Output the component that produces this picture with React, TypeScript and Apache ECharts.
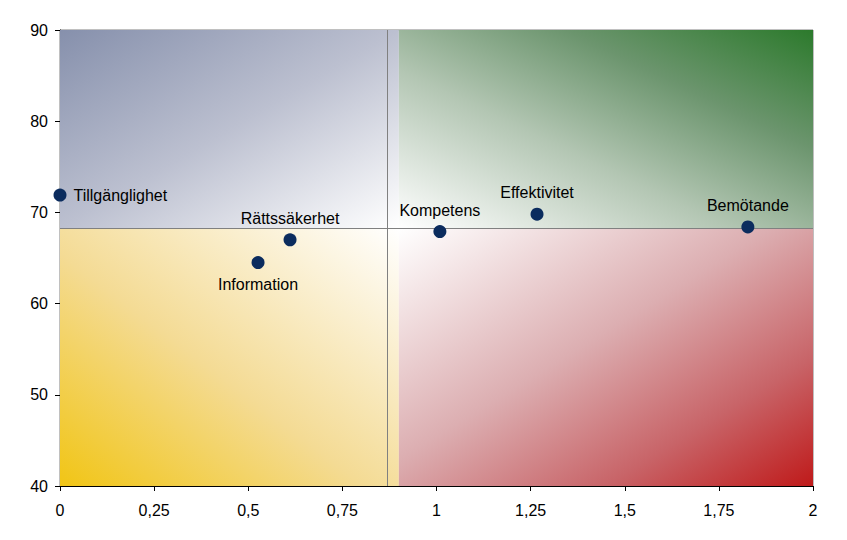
import React, { useEffect, useRef } from "react";
import * as echarts from "echarts";

const names = ["Tillgänglighet", "Information", "Rättssäkerhet", "Kompetens", "Effektivitet", "Bemötande"];
const xValues = [0, 0.526, 0.611, 1.009, 1.267, 1.827];
const yValues = [71.9, 64.5, 67.0, 67.9, 69.8, 68.4];
const labelPos = ["right", "bottom", "top", "top", "top", "top"];
const meanX = 0.874;
const meanY = 68.25;
const fillSplitX = 0.9;

const fmt = (v: number) => String(v).replace(".", ",");

export default function App() {
  const ref = useRef<HTMLDivElement>(null);
  useEffect(() => {
    if (!ref.current) return;
    const chart = echarts.init(ref.current, null, { renderer: "svg" });
    const LG = echarts.graphic.LinearGradient;
    const textStyle = { fontFamily: "Liberation Sans, Arial, sans-serif", fontSize: 16, color: "#000" };
    chart.setOption({
      animation: false,
      grid: { left: 60, top: 30, right: 34, bottom: 54, show: true, borderColor: "#808080", borderWidth: 1, backgroundColor: "transparent" },
      xAxis: {
        type: "value",
        min: 0,
        max: 2,
        interval: 0.25,
        splitLine: { show: false },
        axisLine: { show: true, lineStyle: { color: "#000", width: 1 } },
        axisTick: { show: true, length: 5, lineStyle: { color: "#000" } },
        axisLabel: { ...textStyle, margin: 16, formatter: fmt },
      },
      yAxis: {
        type: "value",
        min: 40,
        max: 90,
        interval: 10,
        splitLine: { show: false },
        axisLine: { show: true, lineStyle: { color: "#000", width: 1 } },
        axisTick: { show: true, length: 5, lineStyle: { color: "#000" } },
        axisLabel: { ...textStyle, margin: 12 },
      },
      series: [
        {
          type: "scatter",
          symbolSize: 13,
          itemStyle: { color: "#0B2C5E", opacity: 1 },
          z: 5,
          data: names.map((n, i) => ({
            name: n,
            value: [xValues[i], yValues[i]],
            label: { position: labelPos[i] },
          })),
          label: {
            show: true,
            formatter: (p: any) => p.name,
            ...textStyle,
            distance: 7,
          },
          markArea: {
            silent: true,
            z: 1,
            data: [
              [
                { xAxis: 0, yAxis: meanY, itemStyle: { opacity: 1, color: new LG(0, 0, 1, 1, [{ offset: 0, color: "#8690AC" }, { offset: 0.5, color: "#BCC0D0" }, { offset: 1, color: "#FFFFFF" }]) } },
                { xAxis: fillSplitX, yAxis: 90 },
              ],
              [
                { xAxis: fillSplitX, yAxis: meanY, itemStyle: { opacity: 1, color: new LG(1, 0, 0, 1, [{ offset: 0, color: "#2C7A2C" }, { offset: 0.3, color: "#6C956E" }, { offset: 0.6, color: "#B3C6B3" }, { offset: 1, color: "#FFFFFF" }]) } },
                { xAxis: 2, yAxis: 90 },
              ],
              [
                { xAxis: 0, yAxis: 40, itemStyle: { opacity: 1, color: new LG(0, 1, 1, 0, [{ offset: 0, color: "#F1C515" }, { offset: 0.45, color: "#F4DB94" }, { offset: 1, color: "#FFFFFF" }]) } },
                { xAxis: fillSplitX, yAxis: meanY },
              ],
              [
                { xAxis: fillSplitX, yAxis: 40, itemStyle: { opacity: 1, color: new LG(1, 1, 0, 0, [{ offset: 0, color: "#BF1A1A" }, { offset: 0.25, color: "#C86468" }, { offset: 0.55, color: "#DCAEB1" }, { offset: 1, color: "#FFFFFF" }]) } },
                { xAxis: 2, yAxis: meanY },
              ],
            ],
          },
          markLine: {
            silent: true,
            symbol: "none",
            label: { show: false },
            lineStyle: { color: "#808080", width: 1, type: "solid" },
            z: 2,
            data: [{ xAxis: meanX }, { yAxis: meanY }],
          },
        },
      ],
    });
    return () => chart.dispose();
  }, []);
  return <div ref={ref} style={{ width: 847, height: 540, margin: -8 }} />;
}
